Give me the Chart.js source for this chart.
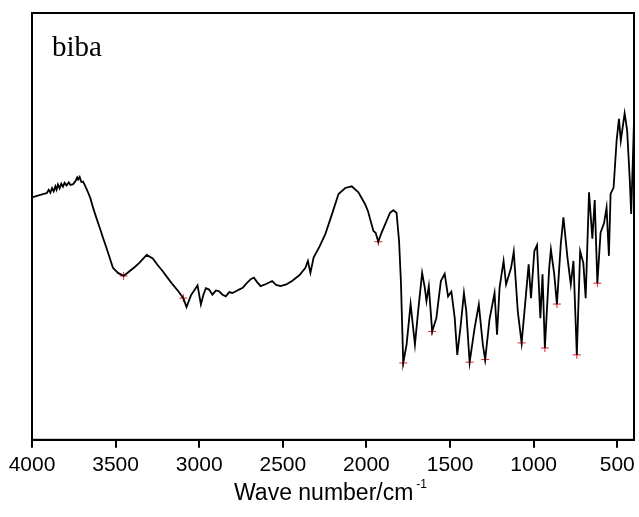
<!DOCTYPE html>
<html>
<head>
<meta charset="utf-8">
<script src="https://cdn.jsdelivr.net/npm/chart.js"></script>
<style>
  body { margin: 0; background: #fff; overflow: hidden; }
  #wrap { width: 639px; height: 517px; }
  canvas { display: block; }
</style>
</head>
<body>
<div id="wrap"><canvas id="ir"></canvas></div>
<script>
// spectrum (wave number in cm-1, transmittance in arbitrary %)
var waveNumbers = [4000, 3975, 3950, 3930, 3912, 3900, 3890, 3880, 3870, 3860, 3853, 3845, 3835, 3825, 3815, 3805,
  3793, 3780, 3770, 3754, 3740, 3730, 3724, 3715, 3705, 3695, 3680, 3665, 3650, 3635, 3615, 3595, 3575, 3555, 3535,
  3516, 3486, 3452, 3417, 3385, 3357, 3314, 3278, 3250, 3218, 3190, 3159, 3125, 3095, 3076, 3049, 3030, 3010, 2990,
  2975, 2960, 2941, 2921, 2900, 2881, 2860, 2841, 2820, 2802, 2780, 2762, 2740, 2713, 2690, 2673, 2655, 2633, 2600,
  2564, 2540, 2514, 2480, 2445, 2400, 2365, 2350, 2335, 2316, 2280, 2246, 2205, 2167, 2127, 2088, 2048, 2008, 1990,
  1978, 1958, 1945, 1929, 1910, 1889, 1859, 1839, 1820, 1805, 1794, 1780, 1760, 1736, 1710, 1691, 1667, 1651, 1641,
  1627, 1607, 1582, 1555, 1532, 1512, 1492, 1472, 1457, 1436, 1417, 1403, 1383, 1353, 1328, 1304, 1290, 1264, 1234,
  1219, 1204, 1180, 1165, 1135, 1119, 1095, 1072, 1046, 1030, 1016, 996, 980, 960, 947, 933, 907, 897, 877, 861,
  838, 822, 798, 778, 762, 742, 722, 703, 689, 669, 649, 635, 619, 600, 579, 564, 550, 540, 522, 504, 490, 479,
  456, 441, 425, 417, 405, 400];
var transmittance = [56.8, 57.1, 57.4, 57.6, 57.8, 58.6, 57.9, 59.0, 58.2, 59.4, 58.6, 59.8, 58.9, 60.0, 59.3, 60.2,
  59.6, 60.3, 59.7, 59.9, 60.6, 61.5, 61.0, 61.6, 60.4, 60.5, 59.3, 58.0, 56.5, 54.4, 52.0, 49.7, 47.3, 45.0, 42.6,
  40.3, 39.1, 38.4, 39.5, 40.5, 41.5, 43.3, 42.5, 41.0, 39.5, 38.0, 36.4, 34.8, 33.2, 31.1, 33.9, 35.0, 36.2, 31.7,
  34.0, 35.5, 35.2, 34.0, 35.0, 34.8, 34.0, 33.6, 34.6, 34.4, 34.8, 35.2, 35.6, 36.8, 37.7, 38.0, 37.0, 36.0, 36.5,
  37.2, 36.3, 36.0, 36.4, 37.2, 38.6, 40.3, 41.9, 39.1, 42.7, 45.3, 48.2, 53.0, 57.6, 59.0, 59.4, 58.0, 55.2, 53.5,
  51.7, 48.9, 48.5, 46.4, 48.5, 50.4, 53.2, 53.8, 53.2, 46.6, 37.2, 18.0, 22.3, 31.8, 22.3, 30.1, 39.1, 35.6, 32.5,
  36.0, 25.4, 28.5, 37.2, 38.9, 33.6, 34.7, 28.5, 19.9, 27.0, 34.4, 30.1, 18.2, 26.2, 31.7, 22.3, 18.8, 28.2, 34.4,
  24.6, 35.6, 41.9, 36.4, 40.3, 44.1, 30.1, 22.7, 34.0, 41.1, 33.2, 44.2, 45.6, 28.5, 38.8, 21.5, 40.3, 44.6, 38.8, 31.8,
  45.8, 52.1, 42.7, 36.4, 41.9, 19.9, 44.2, 41.4, 33.2, 58.0, 47.1, 56.2, 36.7, 48.5, 50.8, 54.4, 43.1, 57.6, 59.1, 70.1, 75.2, 70.1,
  76.5, 72.5, 60.7, 52.9, 68.0, 75.0];

// picked peaks (red crosses)
var peakWaveNumbers = [3452, 3095, 1929, 1780, 1607, 1383, 1290, 1072, 933, 861, 742, 619];
var peakTransmittance = [38.4, 33.2, 46.4, 18.0, 25.4, 18.2, 18.8, 22.7, 21.5, 31.8, 19.9, 36.7];

var tickValues = [4000, 3500, 3000, 2500, 2000, 1500, 1000, 500];
var sampleName = 'biba';
var axisTitle = 'Wave number/cm';
var axisTitleSup = '-1';

var spectrum = waveNumbers.map(function (w, i) { return { x: w, y: transmittance[i] }; });
var peaks = peakWaveNumbers.map(function (w, i) { return { x: w, y: peakTransmittance[i] }; });

var frame = {
  id: 'frame',
  afterDraw: function (chart) {
    var a = chart.chartArea, ctx = chart.ctx;
    ctx.save();
    ctx.strokeStyle = '#000';
    ctx.lineWidth = 2;
    ctx.strokeRect(a.left, a.top, a.right - a.left, a.bottom - a.top);

    ctx.fillStyle = '#000';
    ctx.font = '29px "Liberation Serif", "Times New Roman", serif';
    ctx.textBaseline = 'alphabetic';
    ctx.textAlign = 'left';
    ctx.fillText(sampleName, a.left + 20, a.top + 43);

    ctx.font = '23px "Liberation Sans", Arial, sans-serif';
    var w1 = ctx.measureText(axisTitle).width;
    ctx.font = '12px "Liberation Sans", Arial, sans-serif';
    var w2 = ctx.measureText(axisTitleSup).width;
    var x0 = (a.left + a.right) / 2 - (w1 + w2 + 2) / 2 - 3;
    ctx.font = '23px "Liberation Sans", Arial, sans-serif';
    ctx.fillText(axisTitle, x0, 500);
    ctx.font = '12px "Liberation Sans", Arial, sans-serif';
    ctx.fillText(axisTitleSup, x0 + w1 + 3, 488);
    ctx.restore();
  }
};

new Chart(document.getElementById('ir'), {
  type: 'line',
  data: {
    datasets: [
      {
        data: spectrum,
        borderColor: '#000',
        borderWidth: 1.8,
        pointRadius: 0,
        tension: 0,
        fill: false
      },
      {
        data: peaks,
        showLine: false,
        pointStyle: 'cross',
        pointRadius: 4,
        borderColor: '#e8202a',
        borderWidth: 1,
        backgroundColor: '#e8202a'
      }
    ]
  },
  options: {
    responsive: true,
    maintainAspectRatio: false,
    animation: false,
    layout: { padding: { left: 32, right: 3, top: 13, bottom: 34 } },
    plugins: { legend: { display: false }, tooltip: { enabled: false } },
    scales: {
      x: {
        type: 'linear',
        reverse: true,
        min: 400,
        max: 4000,
        afterBuildTicks: function (axis) {
          axis.ticks = tickValues.map(function (v) { return { value: v }; });
        },
        afterFit: function (axis) {
          axis.paddingLeft = 0;
          axis.paddingRight = 0;
        },
        grid: { drawOnChartArea: false, drawTicks: true, tickLength: 8, color: '#000', lineWidth: 2 },
        border: { display: true, color: '#000', width: 2 },
        ticks: {
          color: '#000',
          padding: 5,
          maxRotation: 0,
          autoSkip: false,
          callback: function (v) { return String(v); },
          font: { family: '"Liberation Sans", Arial, sans-serif', size: 21 }
        }
      },
      y: {
        display: false,
        min: 0,
        max: 100
      }
    }
  },
  plugins: [frame]
});
</script>
</body>
</html>
